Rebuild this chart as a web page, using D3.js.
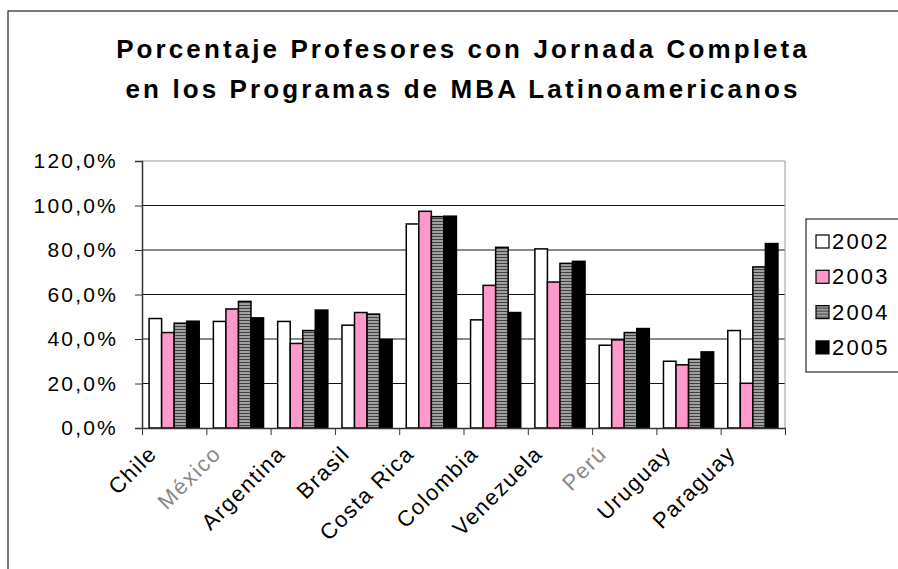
<!DOCTYPE html>
<html>
<head>
<meta charset="utf-8">
<script src="https://cdn.jsdelivr.net/npm/d3@7"></script>
<style>
  body { margin: 0; background: #fff; }
  text { font-family: "Liberation Sans", Arial, sans-serif; }
</style>
</head>
<body>
<script>
let countries = ["Chile", "México", "Argentina", "Brasil", "Costa Rica",
                 "Colombia", "Venezuela", "Perú", "Uruguay", "Paraguay"];
let years = ["2002", "2003", "2004", "2005"];

let v2002 = [49.2, 47.9, 47.9, 46.2, 91.7, 48.6, 80.5, 37.2, 30.0, 43.8];
let v2003 = [42.9, 53.5, 38.0, 51.9, 97.4, 64.1, 65.6, 39.6, 28.4, 20.1];
let v2004 = [47.1, 56.9, 43.8, 51.2, 95.0, 81.2, 74.0, 42.9, 30.9, 72.4];
let v2005 = [48.0, 49.5, 53.0, 39.8, 95.2, 51.9, 74.9, 44.7, 34.2, 82.9];

let yTicks = [0, 20, 40, 60, 80, 100, 120];
let titleLines = ["Porcentaje Profesores con Jornada Completa",
                  "en los Programas de MBA Latinoamericanos"];

let series = [v2002, v2003, v2004, v2005];
let fills = ["#ffffff", "#ff99cc", "url(#stripes)", "#000000"];

let W = 898, H = 569;
let plot = {left: 142, right: 785, top: 161, bottom: 428};

let svg = d3.select("body").append("svg")
    .attr("width", W)
    .attr("height", H);

// horizontal stripes for 2004
let pat = svg.append("defs").append("pattern")
    .attr("id", "stripes")
    .attr("patternUnits", "userSpaceOnUse")
    .attr("width", 4)
    .attr("height", 3);
pat.append("rect").attr("width", 4).attr("height", 3).attr("fill", "#a0a0a0");
pat.append("rect").attr("y", 2).attr("width", 4).attr("height", 1).attr("fill", "#404040");

// chart frame (runs off the right and bottom edge)
svg.append("rect")
    .attr("x", 8).attr("y", 11)
    .attr("width", W).attr("height", H)
    .attr("fill", "none")
    .attr("stroke", "#222")
    .attr("stroke-width", 1.2);

svg.append("text")
    .attr("text-anchor", "middle")
    .attr("font-size", 26)
    .attr("font-weight", "bold")
    .attr("letter-spacing", 3.1)
    .selectAll("tspan")
    .data(titleLines)
    .enter()
      .append("tspan")
      .attr("x", 463)
      .attr("y", (d, i) => 58 + i * 40)
      .text(d => d);

let xScale = d3.scaleBand()
    .domain(countries)
    .range([plot.left, plot.right])
    .paddingInner(0.22)
    .paddingOuter(0.11);
let xSub = d3.scaleBand()
    .domain(years)
    .range([0, xScale.bandwidth()]);
let xEdges = d3.scaleLinear()
    .domain([0, countries.length])
    .range([plot.left, plot.right]);
let yScale = d3.scaleLinear()
    .domain([0, 120])
    .range([plot.bottom, plot.top]);

// gridlines
svg.append("g")
    .selectAll("line")
    .data(yTicks.slice(1))
    .enter()
      .append("line")
      .attr("x1", plot.left).attr("x2", plot.right)
      .attr("y1", d => yScale(d)).attr("y2", d => yScale(d))
      .attr("stroke", d => d === 120 ? "#999" : "#111")
      .attr("stroke-width", 1);
svg.append("line")
    .attr("x1", plot.right).attr("x2", plot.right)
    .attr("y1", plot.top).attr("y2", plot.bottom)
    .attr("stroke", "#999");

// bars
series.forEach((vals, s) => {
  svg.append("g")
      .selectAll("rect")
      .data(vals)
      .enter()
        .append("rect")
        .attr("x", (d, i) => xScale(countries[i]) + xSub(years[s]))
        .attr("y", d => yScale(d))
        .attr("width", xSub.bandwidth())
        .attr("height", d => plot.bottom - yScale(d))
        .attr("fill", fills[s])
        .attr("stroke", "#000")
        .attr("stroke-width", 1.5);
});

// y axis
let yAxis = d3.axisLeft(yScale)
    .tickValues(yTicks)
    .tickSize(7)
    .tickPadding(17)
    .tickFormat(d => d.toFixed(1).replace(".", ",") + "%");
let gy = svg.append("g")
    .attr("transform", `translate(${plot.left}, 0)`)
    .call(yAxis);
gy.select(".domain").attr("stroke", "#333").attr("stroke-width", 1.5);
gy.selectAll(".tick line").attr("stroke", "#333");
gy.selectAll("text")
    .attr("font-size", 21)
    .attr("letter-spacing", 2.2)
    .attr("fill", "#000")
    .attr("font-family", "Liberation Sans, Arial, sans-serif");

// x axis: ticks at category boundaries
let xAxis = d3.axisBottom(xEdges)
    .tickValues(d3.range(countries.length + 1))
    .tickSize(7)
    .tickSizeOuter(0)
    .tickFormat("");
let gx = svg.append("g")
    .attr("transform", `translate(0, ${plot.bottom})`)
    .call(xAxis);
gx.select(".domain").attr("stroke", "#333").attr("stroke-width", 1.5);
gx.selectAll(".tick line").attr("stroke", "#333");

svg.append("g")
    .selectAll("text")
    .data(countries)
    .enter()
      .append("text")
      .attr("transform", d => `translate(${xScale(d) + xScale.bandwidth() / 2 - 16}, ${plot.bottom + 27}) rotate(-45)`)
      .attr("text-anchor", "end")
      .attr("font-size", 22)
      .attr("letter-spacing", 1.5)
      .attr("fill", d => (d === "México" || d === "Perú") ? "#888" : "#000")
      .text(d => d);

// legend
let legend = svg.append("g");
legend.append("rect")
    .attr("x", 806).attr("y", 219)
    .attr("width", 120).attr("height", 153)
    .attr("fill", "#fff")
    .attr("stroke", "#000");
let items = legend.selectAll("g.item")
    .data(years)
    .enter()
      .append("g")
      .attr("class", "item")
      .attr("transform", (d, i) => `translate(816, ${241 + i * 35.3})`);
items.append("rect")
    .attr("x", 0).attr("y", -6)
    .attr("width", 13).attr("height", 13)
    .attr("fill", (d, i) => fills[i])
    .attr("stroke", "#000")
    .attr("stroke-width", 1.2);
items.append("text")
    .attr("x", 16).attr("y", 8)
    .attr("font-size", 22)
    .attr("letter-spacing", 2.2)
    .text(d => d);
</script>
</body>
</html>
